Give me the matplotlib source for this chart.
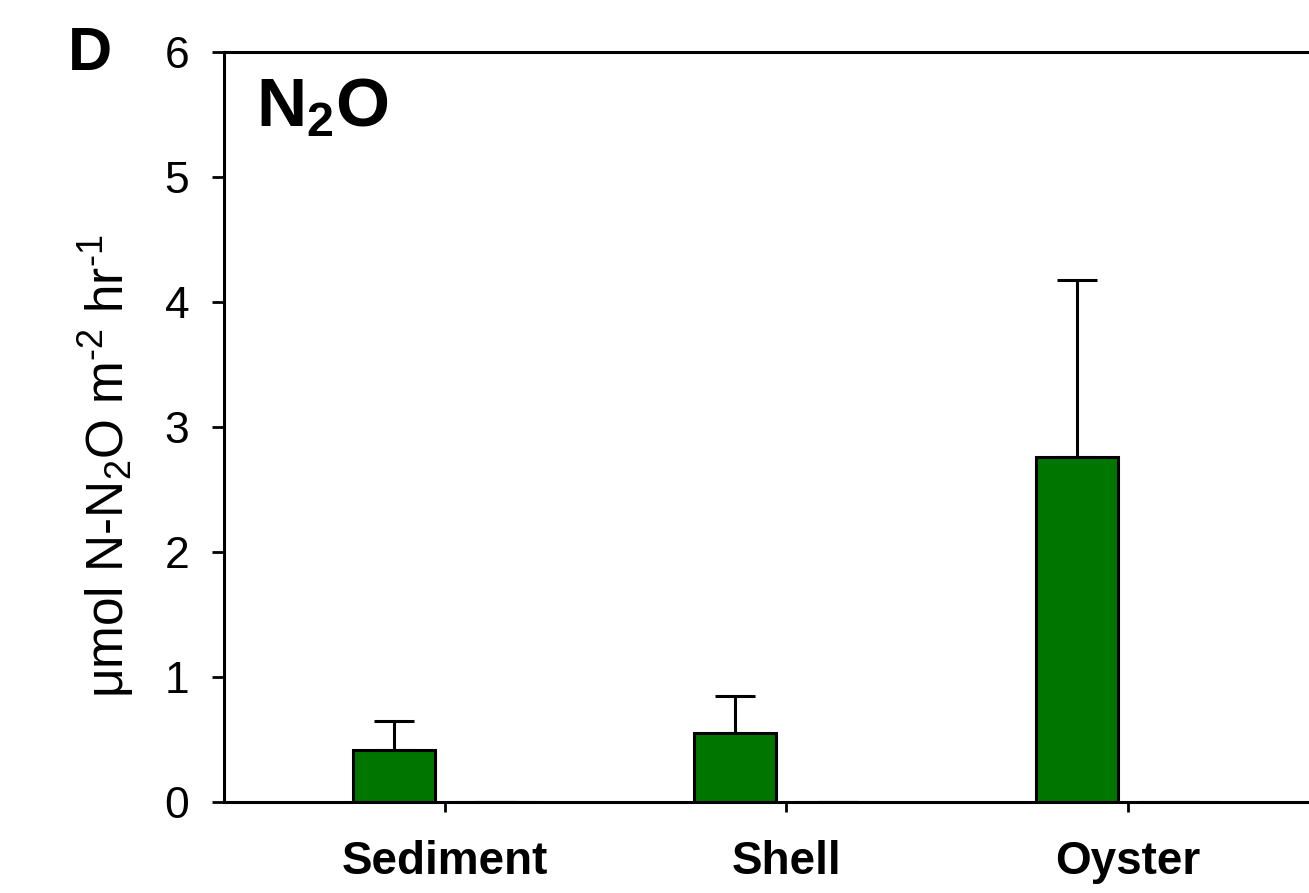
import numpy as np
import matplotlib
matplotlib.use("Agg")
import matplotlib.pyplot as plt

plt.rcParams['font.family'] = ['Liberation Sans', 'DejaVu Sans']
plt.rcParams['mathtext.fontset'] = 'custom'
plt.rcParams['mathtext.rm'] = 'Liberation Sans'
plt.rcParams['mathtext.it'] = 'Liberation Sans'
plt.rcParams['mathtext.bf'] = 'Liberation Sans:bold'

# N2O flux by habitat (mean, upper SE)
categories = ["Sediment", "Shell", "Oyster"]
flux_light = [0.42, 0.55, 2.76]
err_light = [0.23, 0.30, 1.42]
flux_dark = [0.0, 0.0, 0.0]
err_dark = [0.0, 0.0, 0.0]

fig = plt.figure(figsize=(13.09, 8.93), dpi=100)
ax = fig.add_axes([224 / 1309, 91 / 893, 1125 / 1309, 750 / 893])

x = np.arange(1, len(categories) + 1)
w = 0.24
off = 0.15
zeros = [0] * len(categories)

ax.bar(x - off, flux_light, width=w, color='#007500', edgecolor='black',
       linewidth=2.2, zorder=2)
ax.errorbar(x - off, flux_light, yerr=[zeros, err_light], fmt='none',
            ecolor='black', elinewidth=2.2, capsize=14.4, capthick=2.2, zorder=1)
ax.bar(x + off, flux_dark, width=w, color='white', edgecolor='black',
       linewidth=2.2, zorder=2)
ax.errorbar(x + off, flux_dark, yerr=[zeros, err_dark], fmt='none',
            ecolor='black', elinewidth=2.2, capsize=14.4, capthick=2.2, zorder=3)

ax.set_xlim(0.352, 3.648)
ax.set_ylim(0, 6)
ax.set_yticks(range(0, 7))
ax.set_xticks(x)
ax.set_xticklabels(categories, fontsize=33, fontweight='bold')
ax.tick_params(axis='y', direction='out', length=9, width=2, labelsize=32, pad=16)
ax.tick_params(axis='x', direction='out', length=7, width=2, pad=20)

for s in ax.spines.values():
    s.set_linewidth(2.2)

ax.set_ylabel(r'μmol N-N$_2$O m$^{\text{-}2}$ hr$^{\text{-}1}$', fontsize=37)
ax.yaxis.set_label_coords(-0.078, 0.448)

ax.text(0.028, 0.925, r'$\mathbf{N_2O}$', transform=ax.transAxes,
        fontsize=50, fontweight='bold', va='center', ha='left')
fig.text(68 / 1309, 1 - 55 / 893, 'D', fontsize=44, fontweight='bold',
         va='center', ha='left')

fig.savefig('out.png', dpi=100)
